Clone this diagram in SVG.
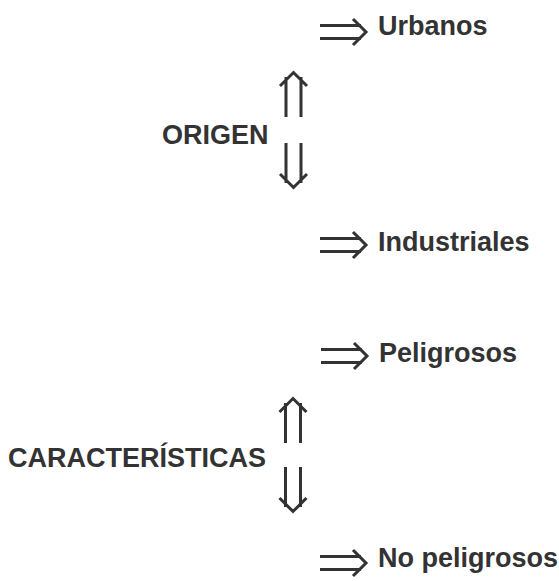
<svg xmlns="http://www.w3.org/2000/svg" xmlns:xlink="http://www.w3.org/1999/xlink" width="559" height="581" viewBox="0 0 559 581">
<style>
.t{font-family:"Liberation Sans",Arial,Helvetica,sans-serif;font-weight:bold;font-size:27px;fill:#333}
.a{fill:none;stroke:#333;stroke-width:3;stroke-linecap:butt;stroke-linejoin:miter}
</style>
<defs>
<path id="harrow" class="a" d="M-46,-6.5H-5M-46,6.5H-5M-13,-13L0,0L-13,13"/>
<path id="uparrow" class="a" d="M-7.5,0V-40M7.5,0V-40M-13.5,-31L0,-44.5L13.5,-31"/>
<path id="dnarrow" class="a" d="M-7.5,0V40M7.5,0V40M-13.5,31L0,44.5L13.5,31"/>
</defs>
<rect width="559" height="581" fill="#fff"/>
<g id="connectors">
<use xlink:href="#harrow" x="366" y="32"/>
<use xlink:href="#harrow" x="366" y="245"/>
<use xlink:href="#harrow" x="367" y="356"/>
<use xlink:href="#harrow" x="366" y="563"/>
<use xlink:href="#uparrow" x="293.5" y="117"/>
<use xlink:href="#dnarrow" x="293.5" y="143"/>
<use xlink:href="#uparrow" x="293" y="443"/>
<use xlink:href="#dnarrow" x="293" y="467"/>
</g>
<g id="origen"><text class="t" x="162" y="144">ORIGEN</text></g>
<g id="urbanos"><text class="t" x="378" y="35">Urbanos</text></g>
<g id="industriales"><text class="t" x="378" y="251">Industriales</text></g>
<g id="caracteristicas"><text class="t" x="8" y="467">CARACTERÍSTICAS</text></g>
<g id="peligrosos"><text class="t" x="379" y="362">Peligrosos</text></g>
<g id="no-peligrosos"><text class="t" x="378" y="567">No peligrosos</text></g>
</svg>
